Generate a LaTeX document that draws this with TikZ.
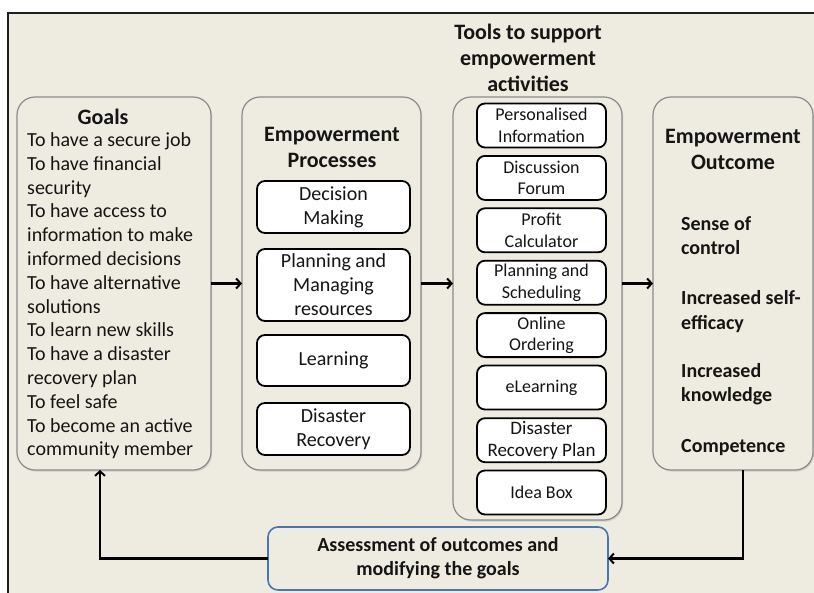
\documentclass[tikz,border=0pt]{standalone}
\usepackage{fontspec}
\setmainfont{Carlito}
\usetikzlibrary{arrows.meta,shadows}
\definecolor{bg}{HTML}{EEECE1}
\definecolor{outerline}{HTML}{8A8A8A}
\definecolor{assline}{HTML}{4A76AE}
\definecolor{framec}{HTML}{1F1F1F}
\definecolor{txt}{HTML}{151515}
\begin{document}
\begin{tikzpicture}[x=1pt,y=-1pt,
  outerbox/.style={draw=outerline, line width=1.2pt, fill=bg, rounded corners=18pt, inner sep=0pt, outer sep=0pt,
    drop shadow={opacity=0.25, shadow xshift=1.2pt, shadow yshift=-1.6pt}},
  innerbox/.style={draw=black, line width=1.8pt, fill=white, rounded corners=8pt, inner sep=0pt, outer sep=0pt, align=center, text=txt},
  procbox/.style={innerbox, minimum width=153pt, font=\fontsize{20}{24}\selectfont},
  toolbox/.style={innerbox, minimum width=129pt, minimum height=44pt, font=\fontsize{18}{21.6}\selectfont},
  titletext/.style={font=\fontsize{22}{26.4}\selectfont\bfseries, inner sep=0pt, anchor=base, text=txt},
  goaltext/.style={font=\fontsize{20}{24}\selectfont, inner sep=0pt, anchor=base west, text=txt},
  outtext/.style={font=\fontsize{20}{24}\selectfont\bfseries, inner sep=0pt, anchor=base west, text=txt},
  assessbox/.style={draw=assline, line width=1.6pt, fill=bg, rounded corners=10pt, inner sep=0pt, outer sep=0pt,
    align=center, text=txt, font=\fontsize{20}{24}\selectfont\bfseries},
  conn/.style={line width=2.4pt, draw=black, -{Straight Barb[length=4.5pt,width=10pt,line width=2pt]}}
]
\useasboundingbox (0,0) rectangle (814,592);
\fill[white] (0,0) rectangle (814,592);
\begin{scope}
\clip (0,0) rectangle (814,592);
\draw[draw=framec, line width=2.2pt, fill=bg] (8,13) rectangle (830,610);
\end{scope}

% Goals
\node[outerbox, minimum width=194pt, minimum height=373pt] (goals) at (114,283.5) {};
\node[titletext] (goalsT) at (103,124) {Goals};
\foreach \t [count=\i] in {To have a secure job, To have financial, security, To have access to,
  information to make, informed decisions, To have alternative, solutions, To learn new skills,
  To have a disaster, recovery plan, To feel safe, To become an active, community member}
  \node[goaltext] (g\i) at (27,{146.5+23.8*(\i-1)}) {\t};

% Processes
\node[outerbox, minimum width=179pt, minimum height=373pt] (proc) at (331.5,283.5) {};
\node[titletext] (procT1) at (332,141) {Empowerment};
\node[titletext] (procT2) at (332,167.5) {Processes};
\node[procbox, minimum height=52pt] (dm) at (333.5,207) {Decision\\Making};
\node[procbox, minimum height=72pt] (pm) at (333.5,285) {Planning and\\Managing\\resources};
\node[procbox, minimum height=51pt] (le) at (333.5,360.5) {Learning};
\node[procbox, minimum height=52pt] (dr) at (333.5,429) {Disaster\\Recovery};

% Tools
\node[titletext] (toolsT1) at (528,39.3) {Tools to support};
\node[titletext] (toolsT2) at (528,65.5) {empowerment};
\node[titletext] (toolsT3) at (528,91.7) {activities};
\node[outerbox, minimum width=169pt, minimum height=423pt] (tools) at (537.5,308.5) {};
\node[toolbox] (t1) at (541.5,125.5) {Personalised\\Information};
\node[toolbox] (t2) at (541.5,177.9) {Discussion\\Forum};
\node[toolbox] (t3) at (541.5,230.3) {Profit\\Calculator};
\node[toolbox] (t4) at (541.5,282.7) {Planning and\\Scheduling};
\node[toolbox] (t5) at (541.5,335.1) {Online\\Ordering};
\node[toolbox] (t6) at (541.5,387.5) {eLearning};
\node[toolbox, font=\fontsize{19}{21.6}\selectfont] (t7) at (541.5,440.2) {Disaster\\Recovery Plan};
\node[toolbox] (t8) at (541.5,492.5) {Idea Box};

% Outcome
\node[outerbox, minimum width=160pt, minimum height=373pt] (outc) at (733,283.5) {};
\node[titletext] (outT1) at (733,143) {Empowerment};
\node[titletext] (outT2) at (733,169.5) {Outcome};
\node[outtext] (o1) at (681,230) {Sense of};
\node[outtext] (o2) at (681,254.5) {control};
\node[outtext] (o3) at (681,304.5) {Increased self-};
\node[outtext] (o4) at (681,329) {efficacy};
\node[outtext] (o5) at (681,377) {Increased};
\node[outtext] (o6) at (681,401.5) {knowledge};
\node[outtext] (o7) at (681,452) {Competence};

% Assessment
\node[assessbox, minimum width=340pt, minimum height=63pt] (assess) at (438,558.5) {Assessment of outcomes and\\modifying the goals};

% Connectors
\draw[conn] (goals.east) -- (proc.west);
\draw[conn] (proc.east) -- (proc.east -| tools.west);
\draw[conn] (tools.east |- outc.west) -- (outc.west);
\draw[conn] ([xshift=10pt]outc.south) |- (assess.east);
\draw[conn] (assess.west) -| ([xshift=-14pt]goals.south);
\end{tikzpicture}
\end{document}
